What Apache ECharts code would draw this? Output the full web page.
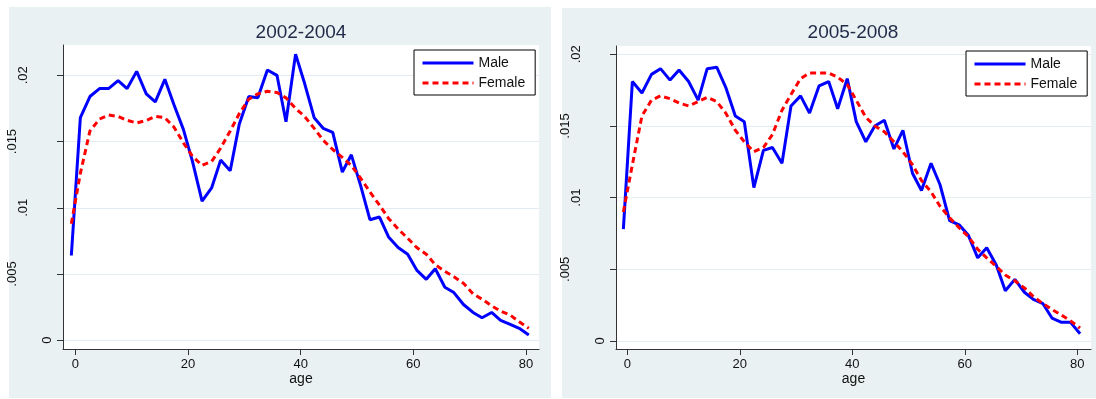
<!DOCTYPE html>
<html>
<head>
<meta charset="utf-8">
<title>Male / Female by age</title>
<script src="https://cdn.jsdelivr.net/npm/echarts@6/dist/echarts.min.js"></script>
<style>
  html, body { margin: 0; padding: 0; background: #fff; }
  #chart { width: 1096px; height: 399px; }
</style>
</head>
<body>
<div id="chart"></div>
<script>
  // x positions of the plotted points (age)
  const AGES = [-0.7, 0.9, 2.6, 4.3, 5.9, 7.6, 9.2, 10.9, 12.6, 14.2,
    15.9, 17.5, 19.2, 20.8, 22.5, 24.2, 25.8, 27.5, 29.1, 30.8,
    32.4, 34.1, 35.8, 37.4, 39.1, 40.7, 42.4, 44.0, 45.7, 47.4,
    49.0, 50.7, 52.3, 54.0, 55.6, 57.3, 59.0, 60.6, 62.3, 63.9,
    65.6, 67.2, 68.9, 70.6, 72.2, 73.9, 75.5, 77.2, 78.8, 80.5]

  // 2002-2004
  const MALE_0204 = [0.0064, 0.0168, 0.0184, 0.0190, 0.0190, 0.0196, 0.0190, 0.0203, 0.0186, 0.0180,
    0.0197, 0.0178, 0.0159, 0.0135, 0.0105, 0.0115, 0.0136, 0.0128, 0.0163, 0.0184,
    0.0183, 0.0204, 0.0200, 0.0165, 0.0216, 0.0194, 0.0168, 0.0160, 0.0157, 0.0127,
    0.0140, 0.0116, 0.0091, 0.0093, 0.0078, 0.0070, 0.0065, 0.0053, 0.0046, 0.0054,
    0.0040, 0.0036, 0.0027, 0.0021, 0.0017, 0.0021, 0.0015, 0.0012, 0.0009, 0.0004]
  const FEMALE_0204 = [0.0088, 0.0126, 0.0158, 0.0167, 0.0170, 0.0169, 0.0166, 0.0164, 0.0166, 0.0169,
    0.0168, 0.0161, 0.0149, 0.0139, 0.0132, 0.0135, 0.0145, 0.0158, 0.0171, 0.0182,
    0.0186, 0.0188, 0.0187, 0.0183, 0.0175, 0.0169, 0.0160, 0.0151, 0.0144, 0.0138,
    0.0132, 0.0122, 0.0112, 0.0102, 0.0092, 0.0084, 0.0077, 0.0070, 0.0065, 0.0057,
    0.0052, 0.0048, 0.0043, 0.0035, 0.0031, 0.0026, 0.0022, 0.0019, 0.0014, 0.0009]

  // 2005-2008
  const MALE_0508 = [0.0078, 0.0181, 0.0173, 0.0186, 0.0190, 0.0182, 0.0189, 0.0181, 0.0168, 0.0190,
    0.0191, 0.0177, 0.0157, 0.0153, 0.0107, 0.0133, 0.0135, 0.0124, 0.0164, 0.0171,
    0.0159, 0.0178, 0.0181, 0.0162, 0.0183, 0.0153, 0.0139, 0.0150, 0.0154, 0.0134,
    0.0147, 0.0117, 0.0105, 0.0124, 0.0109, 0.0084, 0.0081, 0.0074, 0.0058, 0.0065,
    0.0053, 0.0035, 0.0043, 0.0034, 0.0029, 0.0026, 0.0016, 0.0013, 0.0013, 0.0005]
  const FEMALE_0508 = [0.0090, 0.0123, 0.0157, 0.0168, 0.0171, 0.0169, 0.0166, 0.0164, 0.0167, 0.0170,
    0.0167, 0.0159, 0.0147, 0.0139, 0.0132, 0.0135, 0.0144, 0.0161, 0.0172, 0.0183,
    0.0187, 0.0187, 0.0187, 0.0184, 0.0179, 0.0168, 0.0156, 0.0150, 0.0146, 0.0139,
    0.0132, 0.0123, 0.0112, 0.0104, 0.0094, 0.0086, 0.0079, 0.0073, 0.0064, 0.0058,
    0.0052, 0.0046, 0.0042, 0.0037, 0.0031, 0.0026, 0.0022, 0.0018, 0.0014, 0.0009]

  const TITLES = ['2002-2004', '2005-2008']
  const NAMES = ['Male', 'Female']
  const X_TICKS = [0, 20, 40, 60, 80]
  const Y_TICKS = [0, 0.005, 0.01, 0.015, 0.02]

  const FONT = '"Liberation Sans", Arial, Helvetica, sans-serif'
  const PANEL_BG = '#eaf1f3'
  const AXIS_COLOR = '#333'

  const pairs = (ys) => AGES.map((a, i) => [a, ys[i]])

  // Stata-like vertical tick labels: longer labels sit further from the axis
  const yLabelRich = {
    s1: { lineHeight: 20, fontSize: 13, fontFamily: FONT, color: '#111' },
    s3: { lineHeight: 68, fontSize: 13, fontFamily: FONT, color: '#111' },
    s4: { lineHeight: 90, fontSize: 13, fontFamily: FONT, color: '#111' }
  }

  function makeX (idx, min, max) {
    return {
      type: 'value',
      gridIndex: idx,
      min: min,
      max: max,
      name: 'age',
      nameLocation: 'middle',
      nameGap: 23,
      nameMoveOverlap: false,
      nameTextStyle: { color: '#111', fontSize: 14, fontFamily: FONT },
      axisLine: { show: true, onZero: false, lineStyle: { color: AXIS_COLOR, width: 1 } },
      axisTick: { show: true, length: 6, customValues: X_TICKS, lineStyle: { color: AXIS_COLOR } },
      axisLabel: { customValues: X_TICKS, margin: 9, color: '#111', fontSize: 13, fontFamily: FONT },
      splitLine: { show: false }
    }
  }

  function makeY (idx, min, max) {
    return {
      type: 'value',
      gridIndex: idx,
      min: min,
      max: max,
      axisLine: { show: true, onZero: false, lineStyle: { color: AXIS_COLOR, width: 1 } },
      axisTick: { show: true, length: 6, customValues: Y_TICKS, lineStyle: { color: AXIS_COLOR } },
      axisLabel: {
        customValues: Y_TICKS,
        rotate: 90,
        margin: 6,
        formatter: function (v) {
          const s = String(v).replace(/^0\./, '.')
          return '{s' + s.length + '|' + s + '}'
        },
        rich: yLabelRich
      },
      splitLine: { show: true, lineStyle: { color: '#e3ecf0', width: 1 } }
    }
  }

  function makeLegend (left, top) {
    return {
      left: left,
      top: top,
      orient: 'vertical',
      data: NAMES,
      backgroundColor: '#fff',
      borderColor: '#000',
      borderWidth: 1,
      padding: [6, 10, 5, 7],
      itemGap: 6,
      itemWidth: 51,
      itemHeight: 14,
      // line only, no marker in the key
      itemStyle: { opacity: 0, color: 'transparent', borderWidth: 0 },
      lineStyle: { width: 3 },
      textStyle: { color: '#111', fontSize: 14, fontFamily: FONT }
    }
  }

  function makeTitle (text, x) {
    return {
      text: text,
      left: x,
      top: 23,
      padding: 0,
      textAlign: 'center',
      textStyle: { color: '#1e2a48', fontSize: 19, fontWeight: 'normal', fontFamily: FONT }
    }
  }

  function makeLine (name, idx, ys) {
    const male = name === 'Male'
    return {
      name: name,
      type: 'line',
      xAxisIndex: idx,
      yAxisIndex: idx,
      symbol: 'none',
      showSymbol: false,
      animation: false,
      lineStyle: {
        color: male ? '#0000ff' : '#ff0000',
        width: 3,
        type: male ? 'solid' : [6, 4]
      },
      itemStyle: { color: male ? '#0000ff' : '#ff0000' },
      data: pairs(ys)
    }
  }

  const options = {
    backgroundColor: '#fff',
    animation: false,
    graphic: [
      { type: 'rect', z: -10, silent: true, shape: { x: 9, y: 7, width: 542, height: 391 }, style: { fill: PANEL_BG } },
      { type: 'rect', z: -10, silent: true, shape: { x: 562, y: 8, width: 534, height: 390 }, style: { fill: PANEL_BG } }
    ],
    title: [makeTitle(TITLES[0], 301), makeTitle(TITLES[1], 853)],
    legend: [makeLegend(414, 50), makeLegend(966, 51)],
    grid: [
      { left: 63, top: 45, width: 476, height: 304, show: true, backgroundColor: '#fff', borderWidth: 0 },
      { left: 616, top: 46, width: 475, height: 303, show: true, backgroundColor: '#fff', borderWidth: 0 }
    ],
    xAxis: [makeX(0, -2.18, 82.31), makeX(1, -2.01, 82.44)],
    yAxis: [makeY(0, -0.00066, 0.02229), makeY(1, -0.00056, 0.02058)],
    series: [
      makeLine('Male', 0, MALE_0204),
      makeLine('Female', 0, FEMALE_0204),
      makeLine('Male', 1, MALE_0508),
      makeLine('Female', 1, FEMALE_0508)
    ]
  }

  const chart = echarts.init(document.getElementById('chart'), null, { renderer: 'canvas' })
  chart.setOption(options)
</script>
</body>
</html>
